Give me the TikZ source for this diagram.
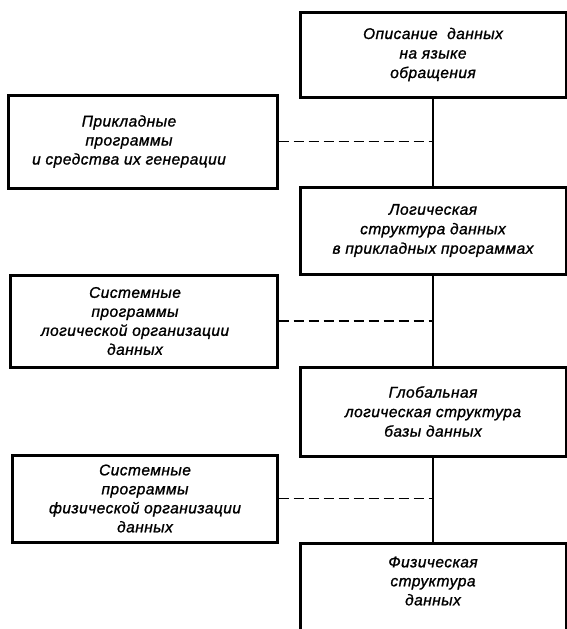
\documentclass[tikz,border=0pt]{standalone}
\usepackage{fontspec}
\setmainfont{Liberation Sans}[LetterSpace=3,FakeBold=1.2]
\begin{document}
\begin{tikzpicture}[x=1pt,y=-1pt,
  box/.style={draw, line width=3pt, rectangle, align=center, inner sep=0pt,
    font=\itshape\fontsize{15.5}{19.5}\selectfont},
  txt/.style={align=center, inner sep=0pt, font=\itshape\fontsize{15.5}{19}\selectfont},
  link/.style={line width=1.5pt},
  dlink/.style={line width=1.7pt, dash pattern=on 10pt off 5pt}]
\useasboundingbox (0,0) rectangle (567,629);
\node[box, minimum width=266pt, minimum height=85pt] (b1) at (433,54.5)
  {Описание\ \ данных\\на языке\\обращения};
\node[box, minimum width=269pt, minimum height=93pt] (b2) at (142.5,141.5) {};
\node[txt] (t2) at (129,141.5) {Прикладные\\программы\\и средства их генерации};
\node[box, minimum width=266pt, minimum height=87pt] (b3) at (433,230.5)
  {Логическая\\структура данных\\в прикладных программах};
\node[box, minimum width=267pt, minimum height=92pt] (b4) at (143.5,321) {};
\node[txt] (t4) at (135,321) {Системные\\программы\\логической организации\\данных};
\node[box, minimum width=266pt, minimum height=89pt] (b5) at (433,411.5)
  {Глобальная\\логическая структура\\базы данных};
\node[box, minimum width=265pt, minimum height=87pt] (b6) at (144.5,498.5) {};
\node[txt] (t6) at (145,498.5) {Системные\\программы\\физической организации\\данных};
\node[box, minimum width=266pt, minimum height=100pt, anchor=north] (b7) at (433,542) {};
\node[txt] (t7) at (433,581) {Физическая\\структура\\данных};
\draw[link] (b1.south) -- (b3.north);
\draw[link] (b3.south) -- (b5.north);
\draw[link] (b5.south) -- (b7.north);
\draw[dlink] (b2.east) -- (b2.east -| b1.south);
\draw[dlink] (b4.east) -- (b4.east -| b1.south);
\draw[dlink] (b6.east) -- (b6.east -| b1.south);
\end{tikzpicture}
\end{document}
